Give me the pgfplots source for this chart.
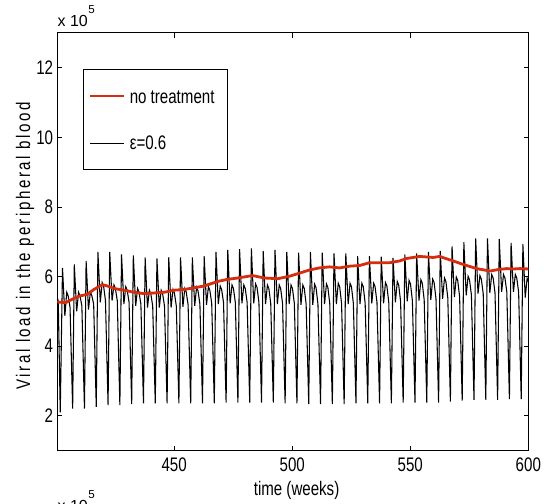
\documentclass[border=0pt]{standalone}
\usepackage{pgfplots}
\pgfplotsset{compat=1.18}
\usepackage{fontspec}
\setmainfont{Liberation Sans}[FakeStretch=0.77]
\newfontfamily\plainsans{Liberation Sans}
\newfontfamily\spacedsans{Liberation Sans}[FakeStretch=0.77, LetterSpace=13]
\newcommand\lblsize{\fontsize{14.7pt}{17pt}\selectfont}
\definecolor{notreat}{RGB}{215,45,15}

\begin{document}
\begin{tikzpicture}
\begin{axis}[
  at={(42.98pt,40pt)}, anchor=south west,
  scale only axis, width=353.25pt, height=313.3pt,
  xmin=400.5, xmax=600, ymin=1, ymax=13,
  xtick={450,500,550,600}, ytick={2,4,6,8,10,12},
  tick align=inside, tick pos=both, major tick length=3.5pt,
  axis line style={line width=0.75pt},
  every tick/.style={black, line width=0.6pt},
  /pgf/number format/assume math mode=true,
  ticklabel style={font=\lblsize, inner sep=0pt},
  xticklabel style={yshift=-5.5pt},
  yticklabel style={xshift=-3pt},
  xlabel={time (weeks)},
  xlabel style={at={(axis description cs:0.508,0)}, anchor=base, yshift=-34pt, font=\lblsize},
  ylabel={Viral load in the peripheral blood},
  ylabel style={at={(axis description cs:-0.0577,0.49)}, anchor=base, font=\spacedsans\lblsize},
]
% epsilon = 0.6
\addplot[black, line width=0.8pt] table {
400.5 5.40
400.9 5.30
401.75 2.10
402.7 6.25
403.7 4.87
404.5 5.55
405.1 5.45
405.9 5.11
407.0 2.21
407.7 6.35
408.7 5.00
409.5 5.55
410.1 5.45
410.9 5.16
412.0 2.21
412.7 6.45
413.7 5.05
414.5 5.56
415.1 5.46
415.9 5.21
417.0 2.26
417.7 6.71
418.7 5.26
419.5 5.83
420.1 5.73
420.9 5.31
422.0 2.31
422.7 6.71
423.7 5.31
424.5 5.76
425.1 5.66
425.9 5.31
427.0 2.31
427.7 6.64
428.7 5.21
429.5 5.71
430.1 5.61
430.9 5.26
432.0 2.34
432.7 6.61
433.7 5.16
434.5 5.66
435.1 5.56
435.9 5.21
437.0 2.36
437.7 6.55
438.7 5.11
439.5 5.61
440.1 5.51
440.9 5.16
442.0 2.36
442.7 6.52
443.7 5.11
444.5 5.61
445.1 5.51
445.9 5.16
447.0 2.36
447.7 6.55
448.7 5.11
449.5 5.63
450.1 5.53
450.9 5.16
452.0 2.36
452.7 6.55
453.7 5.13
454.5 5.66
455.1 5.56
455.9 5.19
457.0 2.36
457.7 6.55
458.7 5.16
459.5 5.69
460.1 5.59
460.9 5.21
462.0 2.36
462.7 6.59
463.7 5.19
464.5 5.71
465.1 5.61
465.9 5.23
467.0 2.36
467.7 6.71
468.7 5.21
469.5 5.73
470.1 5.63
470.9 5.26
472.0 2.38
472.7 6.77
473.7 5.23
474.5 5.76
475.1 5.66
475.9 5.26
477.0 2.38
477.7 6.79
478.7 5.23
479.5 5.76
480.1 5.66
480.9 5.26
482.0 2.38
482.7 6.81
483.7 5.23
484.5 5.79
485.1 5.69
485.9 5.26
487.0 2.38
487.7 6.74
488.7 5.21
489.5 5.76
490.1 5.66
490.9 5.23
492.0 2.38
492.7 6.77
493.7 5.21
494.5 5.76
495.1 5.66
495.9 5.23
497.0 2.36
497.7 6.71
498.7 5.21
499.5 5.76
500.1 5.66
500.9 5.23
502.0 2.36
502.7 6.69
503.7 5.19
504.5 5.76
505.1 5.66
505.9 5.21
507.0 2.34
507.7 6.71
508.7 5.19
509.5 5.78
510.1 5.68
510.9 5.21
512.0 2.34
512.7 6.69
513.7 5.21
514.5 5.79
515.1 5.69
515.9 5.23
517.0 2.34
517.7 6.67
518.7 5.21
519.5 5.81
520.1 5.71
520.9 5.23
522.0 2.34
522.7 6.67
523.7 5.21
524.5 5.81
525.1 5.71
525.9 5.23
527.0 2.36
527.7 6.59
528.7 5.21
529.5 5.81
530.1 5.71
530.9 5.23
532.0 2.36
532.7 6.59
533.7 5.23
534.5 5.81
535.1 5.71
535.9 5.26
537.0 2.36
537.7 6.57
538.7 5.23
539.5 5.83
540.1 5.73
540.9 5.26
542.0 2.36
542.7 6.54
543.7 5.26
544.5 5.86
545.1 5.76
545.9 5.29
547.0 2.38
547.7 6.64
548.7 5.29
549.5 5.89
550.1 5.79
550.9 5.31
552.0 2.38
552.7 6.67
553.7 5.31
554.5 5.91
555.1 5.81
555.9 5.33
557.0 2.38
557.7 6.71
558.7 5.33
559.5 5.93
560.1 5.83
560.9 5.36
562.0 2.38
562.7 6.74
563.7 5.36
564.5 5.96
565.1 5.86
565.9 5.39
567.0 2.41
567.7 6.87
568.7 5.41
569.5 5.99
570.1 5.89
570.9 5.43
572.0 2.44
572.7 6.99
573.7 5.46
574.5 6.01
575.1 5.91
575.9 5.47
577.0 2.46
577.7 7.10
578.7 5.51
579.5 6.03
580.1 5.93
580.9 5.51
582.0 2.46
582.7 7.10
583.7 5.53
584.5 6.06
585.1 5.96
585.9 5.53
587.0 2.46
587.7 7.08
588.7 5.56
589.5 6.06
590.1 5.96
590.9 5.56
592.0 2.48
592.7 6.97
593.7 5.56
594.5 6.06
595.1 5.96
595.9 5.56
597.0 2.48
597.7 6.94
598.7 5.40
599.5 5.95
600.1 5.85
};
% no treatment
\addplot[notreat, line width=2.1pt] table {
400.5 5.27
404.0 5.25
406.8 5.35
409.7 5.44
413.2 5.49
416.0 5.63
419.6 5.77
421.7 5.73
425.2 5.65
428.8 5.61
433.0 5.55
437.3 5.51
441.5 5.53
445.8 5.55
450.0 5.61
454.2 5.63
458.5 5.68
462.7 5.73
468.4 5.86
472.5 5.92
476.9 5.96
483.2 6.03
488.2 5.96
493.9 5.94
498.8 6.01
504.5 6.13
507.3 6.19
511.5 6.25
515.8 6.28
520.1 6.25
524.3 6.30
528.6 6.32
532.8 6.40
537.0 6.40
541.3 6.40
545.5 6.45
548.4 6.52
554.0 6.58
559.7 6.55
562.5 6.58
565.0 6.52
568.2 6.45
572.4 6.35
578.1 6.23
583.8 6.16
587.0 6.20
590.8 6.23
594.0 6.22
596.5 6.23
600.0 6.22
};
% legend
\draw[fill=white, line width=0.75pt] (axis description cs:0.0546,0.672) rectangle (axis description cs:0.3603,0.9114);
\draw[notreat, line width=2.1pt] (axis description cs:0.0694,0.8492) -- (axis description cs:0.1416,0.8492);
\draw[black, line width=0.7pt] (axis description cs:0.0694,0.7359) -- (axis description cs:0.1416,0.7359);
\node[anchor=base west, inner sep=0pt, font=\lblsize] at (axis description cs:0.1533,0.830) {no treatment};
\node[anchor=base west, inner sep=0pt, font=\lblsize] at (axis description cs:0.1533,0.7199) {ε=0.6};
\end{axis}
\node[anchor=base west, inner sep=0pt, font=\plainsans\fontsize{12pt}{14pt}\selectfont] at (42.98pt,357.98pt) {x 10};
\node[anchor=base west, inner sep=0pt, font=\plainsans\fontsize{8.7pt}{10pt}\selectfont] at (66pt,368pt) {5};
\node[anchor=base west, inner sep=0pt, font=\plainsans\fontsize{12pt}{14pt}\selectfont] at (42.98pt,-5.8pt) {x 10};
\node[anchor=base west, inner sep=0pt, font=\plainsans\fontsize{8.7pt}{10pt}\selectfont] at (66pt,4.3pt) {5};
\pgfresetboundingbox
\path[use as bounding box] (0,0) rectangle (413.25pt,378pt);
\end{tikzpicture}
\end{document}
